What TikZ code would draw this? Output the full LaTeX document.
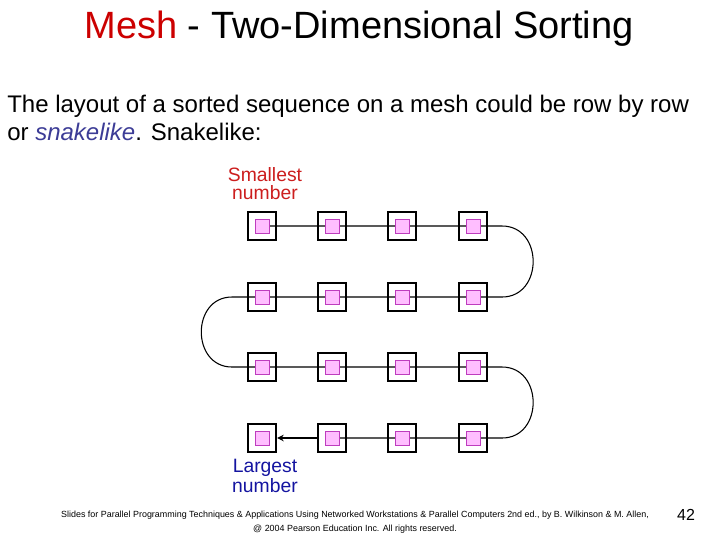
\documentclass[tikz,border=0pt]{standalone}
\usepackage{fontspec}
\setmainfont{Liberation Sans}
\usetikzlibrary{arrows.meta}
\definecolor{titlered}{RGB}{204,0,0}
\definecolor{snakeblue}{RGB}{60,60,150}
\definecolor{lblred}{RGB}{204,30,30}
\definecolor{lblblue}{RGB}{20,20,160}
\definecolor{pinkfill}{RGB}{255,190,255}
\definecolor{pinkdraw}{RGB}{190,60,190}
\begin{document}
\begin{tikzpicture}[x=0.75pt,y=-0.75pt,
  outerbox/.style={draw=black,line width=1.6pt,minimum size=21pt,inner sep=0pt},
  innerbox/.style={draw=pinkdraw,fill=pinkfill,line width=0.6pt,minimum size=10.5pt,inner sep=0pt},
  wire/.style={draw=black,line width=0.8pt},
  lbl/.style={align=center,inner sep=0pt,font=\fontsize{14.5}{13.5}\selectfont}]
\useasboundingbox (0,0) rectangle (720,540);
\node[anchor=base] (title) at (359,38) {\fontsize{28.5}{30}\selectfont\textcolor{titlered}{Mesh} - Two-Dimensional Sorting};
\node[anchor=base west,inner sep=0pt] (body) at (7,112) {\fontsize{18}{20}\selectfont The layout of a sorted sequence on a mesh could be row by row};
\node[anchor=base west,inner sep=0pt] (body2) at (7,140) {\fontsize{18}{20}\selectfont or \textit{\textcolor{snakeblue}{snakelike}}. Snakelike:};
\foreach \r/\y in {1/226,2/297,3/367,4/438}{
  \foreach \c/\x in {1/262,2/332,3/402,4/473}{
    \coordinate (p\r\c) at (\x,\y);
  }
}
\coordinate (ra1) at (502,226); \coordinate (rb1) at (502,297);
\coordinate (la2) at (232,297); \coordinate (lb2) at (232,367);
\coordinate (ra3) at (502,367); \coordinate (rb3) at (502,438);
\draw[wire] (p11) -- (p14) -- (ra1) to[out=0,in=0,looseness=1.5] (rb1) -- (p21) -- (la2)
  to[out=180,in=180,looseness=1.5] (lb2) -- (p34) -- (ra3) to[out=0,in=0,looseness=1.5] (rb3) -- (p42);
\foreach \r in {1,...,4}{\foreach \c in {1,...,4}{
  \node[outerbox] (o\r\c) at (p\r\c) {};
  \node[innerbox] (i\r\c) at (p\r\c) {};
}}
\draw[wire,-{Stealth[length=5pt,width=5pt]}] (o42.west) -- (o41.east);
\node[lbl,text=lblred] (small) at (265,184) {Smallest\\number};
\node[lbl,text=lblblue] (large) at (265,476) {Largest\\number};
\node[anchor=base,inner sep=0pt] (foot1) at (355,517) {\fontsize{6.7}{7}\selectfont Slides for Parallel Programming Techniques \& Applications Using Networked Workstations \& Parallel Computers 2nd ed., by B. Wilkinson \& M. Allen,};
\node[anchor=base,inner sep=0pt] (foot2) at (355,531) {\fontsize{6.7}{7}\selectfont @ 2004 Pearson Education Inc. All rights reserved.};
\node[anchor=base,inner sep=0pt] (pg) at (686,520) {\fontsize{12}{12}\selectfont 42};
\end{tikzpicture}
\end{document}
